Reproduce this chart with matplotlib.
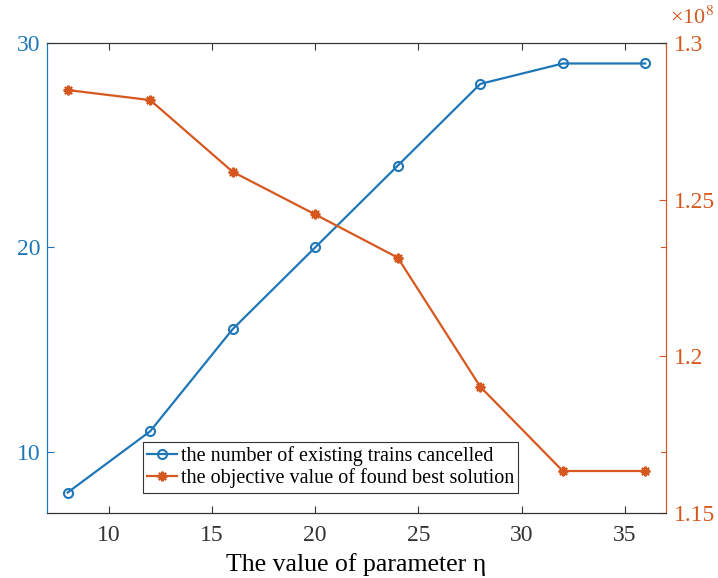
import matplotlib.pyplot as plt

plt.rcParams["font.family"] = ["Liberation Serif", "DejaVu Serif"]
plt.rcParams["mathtext.fontset"] = "stix"

eta = [8, 12, 16, 20, 24, 28, 32, 36]
trains_cancelled = [8, 11, 16, 20, 24, 28, 29, 29]
# objective value, in units of 1e8
objective = [1.285, 1.2818, 1.2589, 1.2453, 1.2315, 1.1903, 1.1634, 1.1634]

BLUE = "#1f77b8"
ORANGE = "#d6581f"
GRAY = "#333333"

fig = plt.figure(figsize=(7.18, 5.78), dpi=100)
ax = fig.add_axes([0.0655, 0.1125, 0.862, 0.813])
ax2 = ax.twinx()

l1, = ax.plot(eta, trains_cancelled, color=BLUE, lw=1.6, marker="o",
              markersize=6.5, markerfacecolor="none", markeredgewidth=1.5,
              label="the number of existing trains cancelled")
l2, = ax2.plot(eta, objective, color=ORANGE, lw=1.6, marker=(8, 2, 0),
               markersize=7, markeredgewidth=1.5,
               label="the objective value of found best solution")

ax.set_xlim(7, 37)
ax.set_ylim(7, 30)
ax2.set_ylim(1.15, 1.3)

ax.set_xticks([10, 15, 20, 25, 30, 35])
ax.set_yticks([10, 20, 30])
ax2.set_yticks([1.15, 1.2, 1.25, 1.3])
ax2.set_yticklabels(["1.15", "1.2", "1.25", "1.3"])

ax.tick_params(axis="x", direction="in", top=True, colors=GRAY,
               labelsize=17, length=5, pad=9)
ax.tick_params(axis="y", direction="in", colors=BLUE, labelsize=17,
               length=5, right=False, pad=5)
ax2.tick_params(axis="y", direction="in", colors=ORANGE, labelsize=17,
                length=5, pad=6)

for s in ["top", "bottom"]:
    ax.spines[s].set_color(GRAY)
    ax2.spines[s].set_color(GRAY)
ax2.spines["left"].set_color(BLUE)
ax.spines["left"].set_color(BLUE)
ax2.spines["right"].set_color(ORANGE)
ax.spines["right"].set_color(ORANGE)

# unlabeled marks on the right side at the left-axis tick positions
for yv in [10, 20]:
    ax.plot([37, 36.75], [yv, yv], color=ORANGE, lw=0.8, clip_on=False)

ax.set_xlabel("The value of parameter η", fontsize=18.5, labelpad=5)

ax2.text(1.006, 1.03, "×10$^{8}$", transform=ax2.transAxes, color=ORANGE,
         fontsize=16, ha="left", va="bottom")

leg = ax.legend(handles=[l1, l2], loc="lower left",
                bbox_to_anchor=(0.155, 0.043), borderaxespad=0,
                fontsize=14.5, handlelength=1.45, handletextpad=0.2,
                borderpad=0.22, labelspacing=0.1, fancybox=False,
                framealpha=1, edgecolor=GRAY)
leg.get_frame().set_linewidth(0.8)

fig.savefig("out.png", dpi=100)
